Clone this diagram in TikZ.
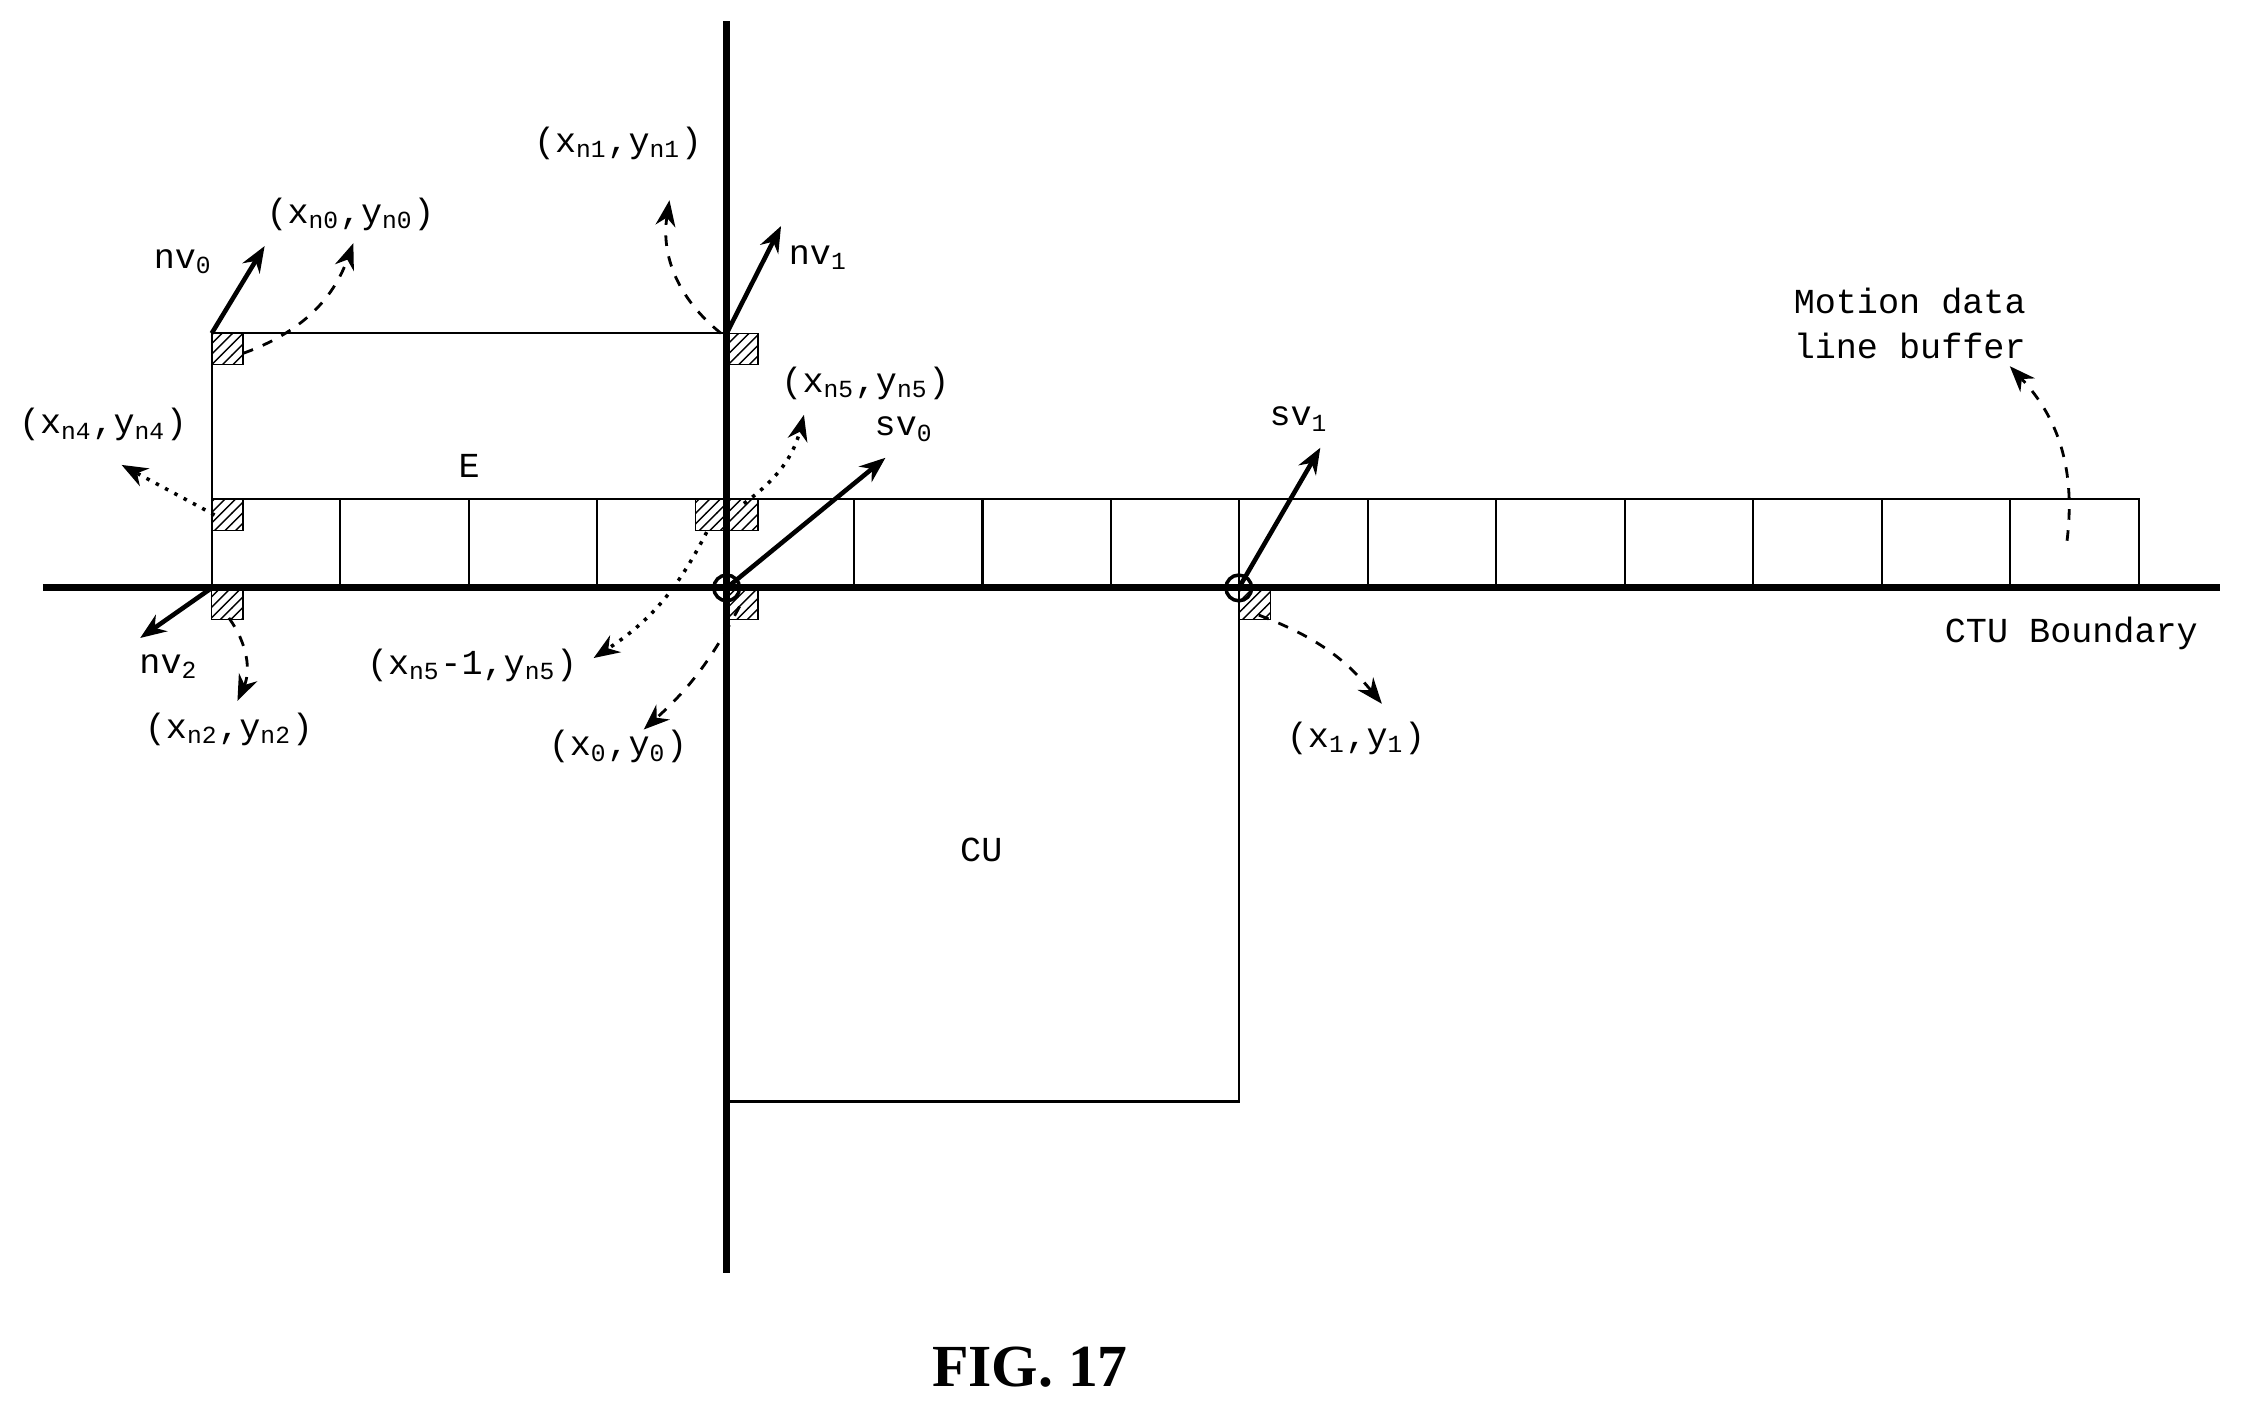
\documentclass[tikz,border=0pt]{standalone}
\usepackage{fontspec}
\setmonofont{Liberation Mono}
\newfontfamily\figfont{Liberation Serif}
\usetikzlibrary{arrows.meta,patterns}
\tikzset{
  >={Stealth[length=2.6mm,width=2mm]},
  lbl/.style ={font=\fontsize{10}{13}\selectfont\ttfamily, inner sep=1pt},
  hatch/.style={draw, pattern=north east lines},
  mv/.style  ={->, line width=1.3pt},
  dsh/.style ={->, dashed, line width=0.8pt},
  dot/.style ={->, dotted, line width=1pt}
}
\newcommand{\lsub}[1]{\textsubscript{#1}}
\begin{document}
\begin{tikzpicture}[x=0.01431cm, y=-0.01431cm]
\useasboundingbox (0,0) rectangle (1568,985);
% blocks
\draw[line width=0.6pt] (148,349) rectangle (508,233);
\foreach \i in {0,...,14}
  \draw[line width=0.6pt] ({148+\i*89.8},349) rectangle ({148+(\i+1)*89.8},411);
\draw[line width=0.6pt] (508,411) rectangle (866,770);
% boundaries
\draw[line width=2pt] (508,15) -- (508,890);
\draw[line width=2pt] (30,411) -- (1552,411);
% sub-blocks
\foreach \p in {(148,233),(508,233),(148,349),(486,349),(508,349),(148,411),(508,411),(866,411)}
  \draw[hatch] \p rectangle ++(22,22);
\draw[line width=1pt] (508,411) circle (9);
\draw[line width=1pt] (866,411) circle (9);
\coordinate (c0) at (508,411);
\coordinate (c1) at (866,411);
% labels
\node[lbl] (nv0) at (128,183) {nv\lsub{0}};
\node[lbl] (nv1) at (572,180) {nv\lsub{1}};
\node[lbl] (nv2) at (118,466) {nv\lsub{2}};
\node[lbl] (sv0) at (632,300) {sv\lsub{0}};
\node[lbl] (sv1) at (908,293) {sv\lsub{1}};
\node[lbl] (pn0) at (245,150) {(x\lsub{n0},y\lsub{n0})};
\node[lbl] (pn1) at (432,100) {(x\lsub{n1},y\lsub{n1})};
\node[lbl] (pn4) at (72,297) {(x\lsub{n4},y\lsub{n4})};
\node[lbl] (pn5) at (605,268) {(x\lsub{n5},y\lsub{n5})};
\node[lbl] (pn5m) at (330,465) {(x\lsub{n5}-1,y\lsub{n5})};
\node[lbl] (pn2) at (160,510) {(x\lsub{n2},y\lsub{n2})};
\node[lbl] (p0) at (432,522) {(x\lsub{0},y\lsub{0})};
\node[lbl] (p1) at (948,516) {(x\lsub{1},y\lsub{1})};
\node[lbl, align=center] (buf) at (1335,226) {Motion data\\line buffer};
\node[lbl] (E) at (328,326) {E};
\node[lbl] (CU) at (686,594) {CU};
\node[lbl] (ctu) at (1448,443) {CTU Boundary};
\node[font=\fontsize{17}{20}\selectfont\bfseries\figfont] (fig) at (720,956) {FIG. 17};
% motion vectors
\draw[mv] (148,233) -- (185,172);
\draw[mv] (508,233) -- (546,158);
\draw[mv] (148,411) -- (98,446);
\draw[mv] (c0) -- (619,320);
\draw[mv] (c1) -- (923,313);
% pointers
\draw[dsh] (170,247) to[bend right=25] (247,170);
\draw[dsh] (504,233) to[bend left=30] (468,140);
\draw[dot] (150,360) -- (85,325);
\draw[dot] (520,352) to[bend right=20] (562,290);
\draw[dot] (494,372) to[bend left=15] (415,460);
\draw[dsh] (517,424) to[bend left=10] (450,510);
\draw[dsh] (160,432) to[bend left=30] (166,490);
\draw[dsh] (880,430) to[bend left=15] (966,492);
\draw[dsh] (1445,378) to[bend right=25] (1405,256);
\end{tikzpicture}
\end{document}
